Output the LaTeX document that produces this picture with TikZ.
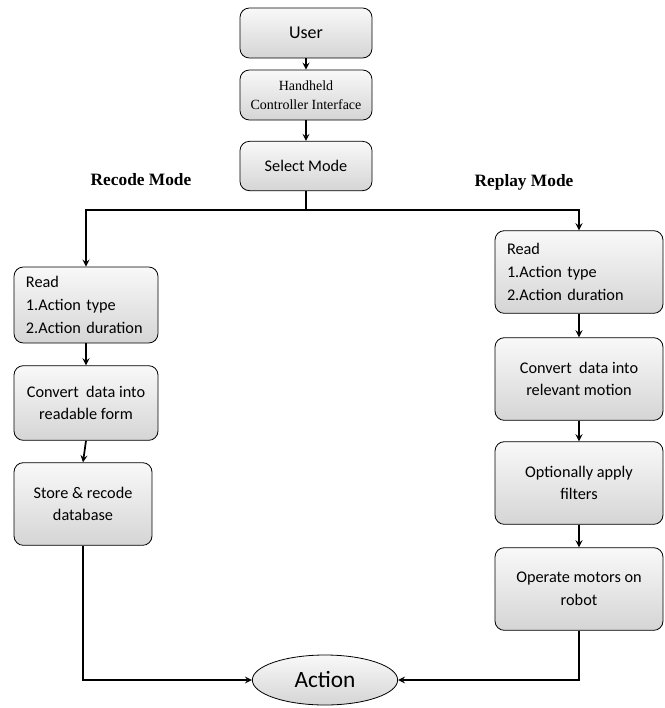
\documentclass[tikz,border=0pt]{standalone}
\usepackage{fontspec}
\setmainfont{Carlito}
\newfontfamily\timesfont{Liberation Serif}
\usetikzlibrary{shapes,arrows,positioning}

\tikzset{
  stepbox/.style={draw,semithick,rounded corners=7pt,top color=gray!5,bottom color=gray!33,
    align=center,inner sep=2pt,font=\fontsize{12.2}{17}\selectfont},
  listbox/.style={stepbox,align=left,inner xsep=9pt},
  modelabel/.style={font=\timesfont\bfseries\fontsize{13}{15}\selectfont},
  flow/.style={->,>=stealth,line width=1.3pt}
}

\begin{document}
\begin{tikzpicture}[x=0.75pt,y=-0.75pt]
\useasboundingbox (0,0) rectangle (665,708);

% centre column
\node[stepbox,minimum width=99pt,minimum height=37.5pt,font=\fontsize{13.5}{16}\selectfont]
	(user) at (306,33) {User};
\node[stepbox,minimum width=99pt,minimum height=37.5pt,font=\timesfont\fontsize{10.5}{14}\selectfont]
	(hci) at (306,95) {Handheld\\Controller Interface};
\node[stepbox,minimum width=99pt,minimum height=37pt,font=\fontsize{12.2}{15}\selectfont]
	(sel) at (306,166) {Select Mode};

\node[modelabel] (reclbl) at (141,180) {Recode Mode};
\node[modelabel] (replbl) at (524,182) {Replay Mode};

% recode branch
\node[listbox,text width=90pt,minimum height=57pt] (lread) at (86,305)
	{Read\\1.Action type\\2.Action duration};
\node[stepbox,minimum width=108pt,minimum height=56pt] (lconv) at (86,403)
	{Convert~ data into\\readable form};
\node[stepbox,minimum width=103.5pt,minimum height=62pt] (lstore) at (83,504)
	{Store \& recode\\database};

% replay branch
\node[listbox,text width=108pt,minimum height=62pt] (rread) at (579,272)
	{Read\\1.Action type\\2.Action duration};
\node[stepbox,minimum width=126pt,minimum height=62pt] (rconv) at (579,379)
	{Convert~ data into\\relevant motion};
\node[stepbox,minimum width=126pt,minimum height=62pt] (rfilt) at (579,483)
	{Optionally apply\\filters};
\node[stepbox,minimum width=126pt,minimum height=62pt] (rmot) at (579,589)
	{Operate motors on\\robot};

\node[ellipse,draw,semithick,top color=gray!5,bottom color=gray!33,
	minimum width=109pt,minimum height=37.5pt,inner sep=0pt,
	font=\fontsize{17.5}{20}\selectfont] (act) at (325,680) {Action};

\coordinate (split) at (306,210);

\draw[flow] (user) -- (hci);
\draw[flow] (hci) -- (sel);
\draw[line width=1.3pt] (sel.south) -- (split);
\draw[flow] (split) -| (lread.north);
\draw[flow] (split) -| (rread.north);

\draw[flow] (lread) -- (lconv);
\draw[flow] (lconv.south) -- (lstore.north);
\draw[flow] (lstore.south) |- (act.west);

\draw[flow] (rread) -- (rconv);
\draw[flow] (rconv) -- (rfilt);
\draw[flow] (rfilt) -- (rmot);
\draw[flow] (rmot.south) |- (act.east);

\end{tikzpicture}
\end{document}
